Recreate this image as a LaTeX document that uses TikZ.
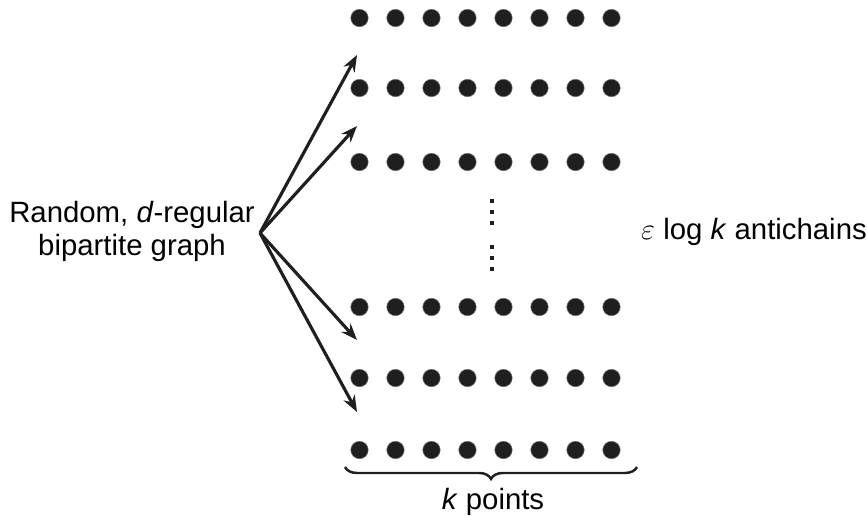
\documentclass[tikz,border=0pt]{standalone}
\usepackage{fontspec}
\setmainfont{Liberation Sans}
\usetikzlibrary{arrows.meta, positioning, decorations.pathreplacing}

\begin{document}
\begin{tikzpicture}[
        x=0.02cm, y=-0.02cm,
        dot/.style={circle, fill=black!88, draw=black!55, line width=0.3pt, minimum size=0.35cm, inner sep=0pt},
        sq/.style={rectangle, fill=black!88, minimum size=0.065cm, inner sep=0pt},
        lbl/.style={font=\fontsize{16.7}{18.7}\selectfont, align=center, inner sep=0pt},
        arr/.style={-{Stealth[length=0.33cm, width=0.25cm]}, line width=1.8pt, black!88}
    ]
        \useasboundingbox (0,0) rectangle (867,515);
        % the antichains, k points each
        \foreach \r/\y in {1/18, 2/88, 3/162, 4/307, 5/378, 6/450}
            \foreach \c in {0,...,7}
                \node[dot] (p\r\c) at (359.5+36*\c, \y) {};
        \foreach \i/\y in {1/201, 2/212, 3/223, 4/247, 5/258, 6/269}
            \node[sq] (v\i) at (492, \y) {};
        \node[lbl] (graph) at (132, 231) {Random, \textit{d}-regular\\bipartite graph};
        \node[lbl] (anti) at (754, 232) {$\varepsilon$ log \textit{k} antichains};
        % arrows out of the graph
        \coordinate (hub) at (260, 233);
        \coordinate (t1) at (357, 55);
        \coordinate (t2) at (357, 126);
        \coordinate (t3) at (357, 340);
        \coordinate (t4) at (357, 412);
        \draw[arr] (hub) -- (t1);
        \draw[arr] (hub) -- (t2);
        \draw[arr] (hub) -- (t3);
        \draw[arr] (hub) -- (t4);
        % brace under the last row
        \coordinate (bl) at (345, 467);
        \coordinate (br) at (637, 467);
        \draw[decorate, decoration={brace, amplitude=6.8pt, mirror}, line width=1.4pt, black!88] (bl) -- (br);
        \node[lbl] (kpts) at (493, 502) {\textit{k} points};
    \end{tikzpicture}
\end{document}
